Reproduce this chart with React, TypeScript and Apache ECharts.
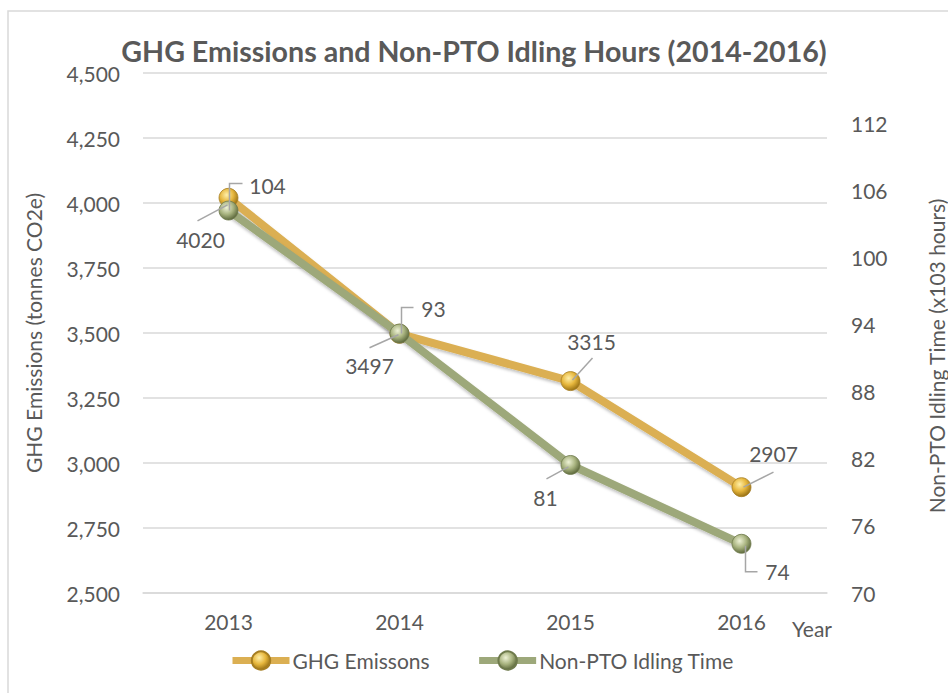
import React, { useEffect, useRef } from "react";
import * as echarts from "echarts";

// ---- data ----
const years = ["2013", "2014", "2015", "2016"];
const ghgEmissions = [4020, 3497, 3315, 2907]; // tonnes CO2e
const idlingHours = [104.2, 93.2, 81.45, 74.4]; // x10^3 hours
const leftAxis = { min: 2500, max: 4500, interval: 250 };
const rightAxis = { min: 70, max: 116.5, interval: 6 };

const TITLE = "GHG Emissions and Non-PTO Idling Hours (2014-2016)";
const SERIES_NAMES = ["GHG Emissons", "Non-PTO Idling Time"];
const X_NAME = "Year";
const LEFT_NAME = "GHG Emissions (tonnes CO2e)";
const RIGHT_NAME = "Non-PTO Idling Time (x103 hours)";

// ---- label layout (offsets relative to each point, in pixels) ----
// [labelDx, labelDy, leader-line points relative to the point]
const ghgLabelLayout: [number, number, number[][]][] = [
  [-28, 42, [[-1, 7], [-31, 23]]],
  [-30, 32, [[-1, 1], [-30, 14]]],
  [21, -40, [[2, -1], [22, -23]]],
  [32, -34, [[2, 0], [32, -15]]],
];
const idleLabelLayout: [number, number, number[][]][] = [
  [39, -25, [[1, 0], [1, -27], [14, -27]]],
  [34, -25, [[2, 0], [2, -26], [14, -26]]],
  [-25, 33, [[-2, 2], [-24, 14]]],
  [36, 28, [[4, 2], [4, 28], [16, 28]]],
];

const FONT = 'Lato, "Open Sans", sans-serif';
const TEXT = "#595959";
const GRID = "#D9D9D9";
const GOLD = "#DBAF52";
const SAGE = "#9DA87A";
const LEADER = "#A6A6A6";

const sphere = (hi: string, mid: string, edge: string) =>
  new echarts.graphic.RadialGradient(0.4, 0.35, 0.65, [
    { offset: 0, color: hi },
    { offset: 0.55, color: mid },
    { offset: 1, color: edge },
  ]);

const makeLayout = (table: [number, number, number[][]][]) => (p: any) => {
  const r = p.rect;
  const cx = r.x + r.width / 2;
  const cy = r.y + r.height / 2;
  const t = table[p.dataIndex];
  return {
    x: cx + t[0],
    y: cy + t[1],
    align: "center",
    verticalAlign: "middle",
  };
};

const leaderSeries = (values: number[], axis: number, table: [number, number, number[][]][]) => ({
  type: "custom",
  yAxisIndex: axis,
  silent: true,
  z: 6,
  data: values.map((v, i) => [i, v]),
  renderItem: (params: any, api: any) => {
    const c = api.coord([api.value(0), api.value(1)]);
    const pts = table[params.dataIndex][2].map((q) => [c[0] + q[0], c[1] + q[1]]);
    return {
      type: "polyline",
      shape: { points: pts },
      style: { stroke: LEADER, lineWidth: 1.5, fill: null },
    };
  },
});

export default function App() {
  const ref = useRef<HTMLDivElement>(null);
  useEffect(() => {
    if (!ref.current) return;
    const chart = echarts.init(ref.current, null, { renderer: "svg" });
    const labelBase = {
      show: true,
      fontFamily: FONT,
      fontSize: 21,
      color: TEXT,
    };
    chart.setOption({
      animation: false,
      backgroundColor: "#fff",
      textStyle: { fontFamily: FONT },
      title: {
        text: TITLE,
        left: "center",
        top: 31,
        padding: [5, 0, 5, 14],
        textStyle: {
          fontFamily: FONT,
          fontWeight: "bold",
          fontSize: 28.6,
          color: TEXT,
        },
      },
      graphic: [
        {
          type: "rect",
          silent: true,
          shape: { x: 8, y: 11, width: 1000, height: 1000 },
          style: { fill: "none", stroke: GRID, lineWidth: 1.5 },
        },
        {
          type: "text",
          silent: true,
          x: 936,
          y: 356,
          rotation: Math.PI / 2,
          style: {
            text: RIGHT_NAME,
            fontFamily: FONT,
            fontSize: 21,
            fill: TEXT,
            align: "center",
            verticalAlign: "middle",
          },
        },
        {
          type: "text",
          silent: true,
          x: 792,
          y: 628,
          style: {
            text: X_NAME,
            fontFamily: FONT,
            fontSize: 21,
            fill: TEXT,
            align: "left",
            verticalAlign: "middle",
          },
        },
      ],
      legend: {
        left: 224,
        top: 645,
        itemWidth: 57,
        itemHeight: 23,
        itemGap: 46,
        lineStyle: { width: 7 },
        textStyle: { fontFamily: FONT, fontSize: 21, color: TEXT, padding: [0, 0, 0, -2] },
        data: SERIES_NAMES,
      },
      grid: { left: 143, right: 121, top: 73, bottom: 100 },
      xAxis: {
        type: "category",
        data: years,
        boundaryGap: true,
        axisLine: { lineStyle: { color: GRID, width: 1.5 } },
        axisTick: { show: false },
        axisLabel: { color: TEXT, fontFamily: FONT, fontSize: 21, margin: 18 },
      },
      yAxis: [
        {
          type: "value",
          min: leftAxis.min,
          max: leftAxis.max,
          interval: leftAxis.interval,
          axisLine: { show: false },
          axisTick: { show: false },
          splitLine: { lineStyle: { color: GRID, width: 1.5 } },
          axisLabel: {
            color: TEXT,
            fontFamily: FONT,
            fontSize: 21,
            margin: 23,
            formatter: (v: number) => v.toLocaleString("en-US"),
          },
          name: LEFT_NAME,
          nameLocation: "middle",
          nameRotate: 90,
          nameGap: 99,
          nameTextStyle: { color: TEXT, fontFamily: FONT, fontSize: 21 },
        },
        {
          type: "value",
          min: rightAxis.min,
          max: rightAxis.max,
          interval: rightAxis.interval,
          axisLine: { show: false },
          axisTick: { show: false },
          splitLine: { show: false },
          axisLabel: {
            color: TEXT,
            fontFamily: FONT,
            fontSize: 21,
            margin: 24,
            showMaxLabel: false,
          },
        },
      ],
      series: [
        {
          name: SERIES_NAMES[0],
          type: "line",
          yAxisIndex: 0,
          data: ghgEmissions,
          symbol: "circle",
          symbolSize: 19,
          z: 2,
          emphasis: { disabled: true },
          lineStyle: {
            color: GOLD,
            width: 8,
            shadowColor: "rgba(0,0,0,0.25)",
            shadowBlur: 3,
            shadowOffsetY: 2,
          },
          itemStyle: {
            color: sphere("#FFEFA8", "#E6B63C", "#9C7416"),
            borderColor: "#A67E22",
            borderWidth: 0.8,
          },
          label: { ...labelBase, formatter: (p: any) => String(Math.round(p.value)) },
          labelLayout: makeLayout(ghgLabelLayout),
        },
        {
          name: SERIES_NAMES[1],
          type: "line",
          yAxisIndex: 1,
          data: idlingHours,
          symbol: "circle",
          symbolSize: 19,
          z: 3,
          emphasis: { disabled: true },
          lineStyle: {
            color: SAGE,
            width: 8,
            shadowColor: "rgba(0,0,0,0.25)",
            shadowBlur: 3,
            shadowOffsetY: 2,
          },
          itemStyle: {
            color: sphere("#EEF2D6", "#A8B37F", "#5F6B3E"),
            borderColor: "#6E7A4C",
            borderWidth: 0.8,
          },
          label: { ...labelBase, formatter: (p: any) => String(Math.round(p.value)) },
          labelLayout: makeLayout(idleLabelLayout),
        },
        leaderSeries(ghgEmissions, 0, ghgLabelLayout),
        leaderSeries(idlingHours, 1, idleLabelLayout),
      ],
    });
    return () => chart.dispose();
  }, []);
  return (
    <div
      ref={ref}
      style={{ position: "fixed", left: 0, top: 0, width: 948, height: 693 }}
    />
  );
}
